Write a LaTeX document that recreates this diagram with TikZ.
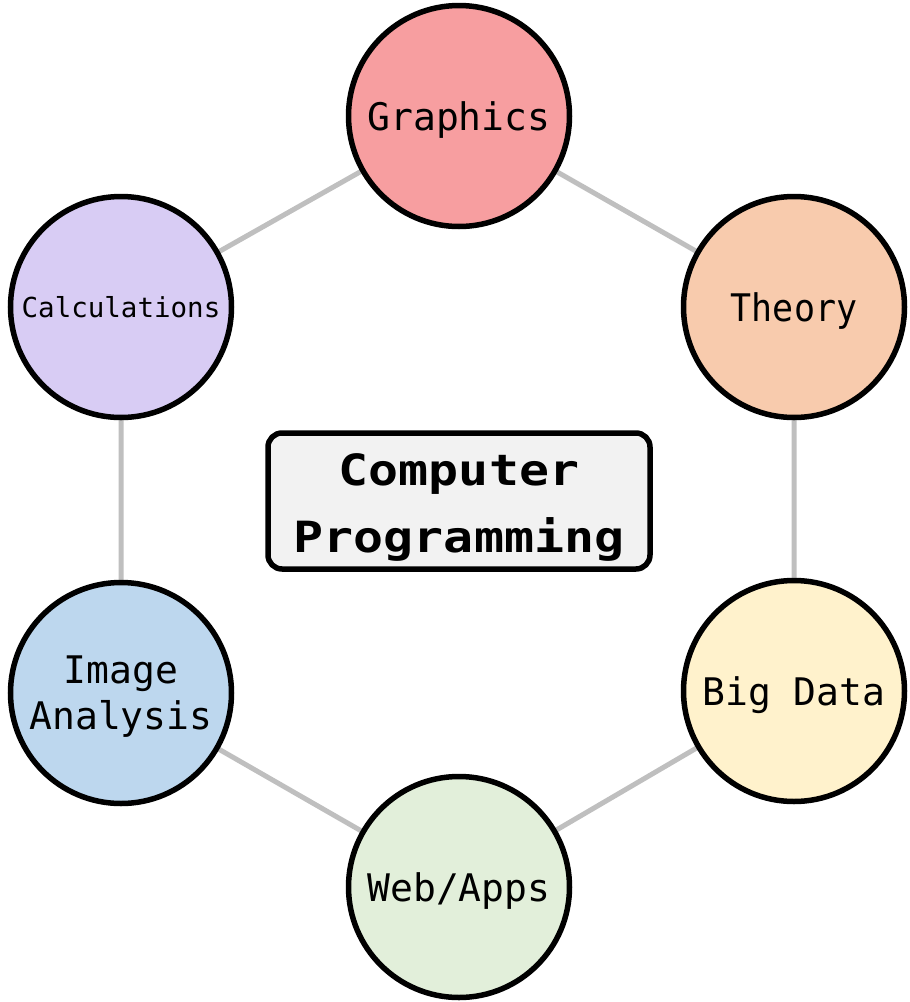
\documentclass[tikz,border=0pt]{standalone}
\usepackage{fontspec}
\usetikzlibrary{backgrounds}
\setmonofont{DejaVu Sans Mono}
\newfontfamily\hubfont[FakeStretch=1.16]{DejaVu Sans Mono}
\newfontfamily\narrowmono[FakeStretch=0.92]{DejaVu Sans Mono}

\definecolor{graphicsred}{RGB}{247,158,160}
\definecolor{theoryorange}{RGB}{248,203,173}
\definecolor{bigdatayellow}{RGB}{255,242,204}
\definecolor{webgreen}{RGB}{226,239,218}
\definecolor{imageblue}{RGB}{189,215,238}
\definecolor{calcpurple}{RGB}{216,204,244}
\definecolor{hubgray}{RGB}{242,242,242}
\definecolor{linkgray}{RGB}{191,191,191}

\begin{document}
\begin{tikzpicture}[x=1pt,y=-1pt]
\tikzset{
    topic/.style={circle, draw, line width=5.5pt, minimum size=221pt, inner sep=0pt,
        text depth=0pt, align=center, font=\ttfamily\fontsize{38}{46}\selectfont},
    hub/.style={rectangle, draw, rounded corners=14pt, line width=5.5pt, fill=hubgray,
        minimum width=382pt, minimum height=136pt, align=center,
        font=\hubfont\bfseries\fontsize{43}{67}\selectfont},
    link/.style={draw=linkgray, line width=5pt}
}
  \useasboundingbox (0,0) rectangle (910,1002);

  \node[hub] (prog) at (459,501) {\rule{0pt}{44pt}Computer\\Programming};

  \node[topic, fill=graphicsred] (graphics) at (459,116) {Graphics};
  \node[topic, fill=theoryorange, font=\narrowmono\fontsize{38}{46}\selectfont] (theory) at (794,307) {Theory};
  \node[topic, fill=bigdatayellow] (bigdata) at (794,691) {Big Data};
  \node[topic, fill=webgreen] (web) at (459,887) {Web/Apps};
  \node[topic, fill=imageblue] (image) at (121,693) {Image\\Analysis};
  \node[topic, fill=calcpurple, font=\ttfamily\fontsize{27.5}{33}\selectfont] (calc) at (121,307) {Calculations};

  % ring of links behind the circles
  \begin{scope}[on background layer]
    \draw[link] (graphics.center) -- (theory.center) -- (bigdata.center)
      -- (web.center) -- (image.center) -- (calc.center) -- (graphics.center);
  \end{scope}
\end{tikzpicture}
\end{document}
